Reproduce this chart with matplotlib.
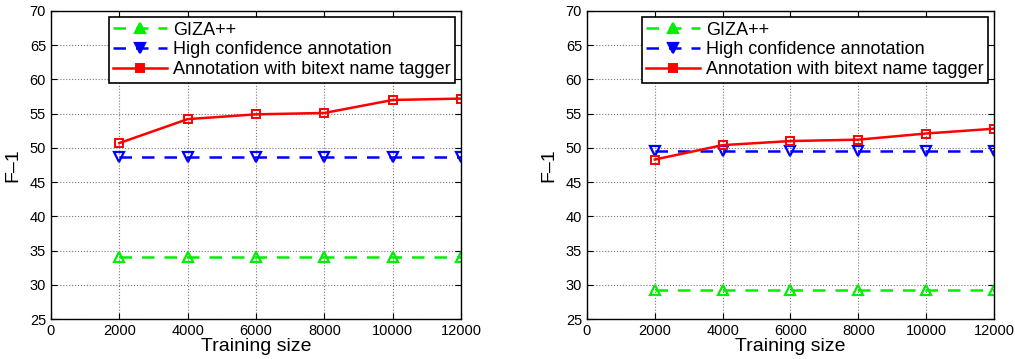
import matplotlib
matplotlib.use("Agg")
import matplotlib.pyplot as plt

plt.rcParams['font.family'] = ['Liberation Sans', 'DejaVu Sans']

train_sizes = [2000, 4000, 6000, 8000, 10000, 12000]
labels = ["GIZA++", "High confidence annotation", "Annotation with bitext name tagger"]

left_giza = [34.0, 34.0, 34.0, 34.0, 34.0, 34.0]
left_high = [48.7, 48.7, 48.7, 48.7, 48.7, 48.7]
left_bitext = [50.7, 54.2, 54.9, 55.1, 57.0, 57.2]

right_giza = [29.2, 29.2, 29.2, 29.2, 29.2, 29.2]
right_high = [49.6, 49.6, 49.6, 49.6, 49.6, 49.6]
right_bitext = [48.3, 50.4, 51.0, 51.2, 52.1, 52.8]

xticks = [0, 2000, 4000, 6000, 8000, 10000, 12000]
yticks = [25, 30, 35, 40, 45, 50, 55, 60, 65, 70]

fig = plt.figure(figsize=(10.15, 3.59), dpi=100)
ax1 = fig.add_axes([0.0502, 0.1114, 0.404, 0.858])
ax2 = fig.add_axes([0.5783, 0.1114, 0.401, 0.858])

for ax, g, h, b in [(ax1, left_giza, left_high, left_bitext),
                    (ax2, right_giza, right_high, right_bitext)]:
    ax.plot(train_sizes, g, '--', color='#00ee00', marker='^', ms=7, mfc='none', mew=1.6,
            lw=1.8, dashes=(5, 4), label=labels[0])
    ax.plot(train_sizes, h, '--', color='#0000ff', marker='v', ms=7, mfc='none', mew=1.6,
            lw=1.8, dashes=(5, 4), label=labels[1])
    ax.plot(train_sizes, b, '-', color='#ff0000', marker='s', ms=5.5, mfc='none', mew=1.4,
            lw=1.8, label=labels[2])
    ax.set_xlim(0, 12000)
    ax.set_ylim(25, 70)
    ax.set_xticks(xticks)
    ax.set_yticks(yticks)
    ax.tick_params(direction='in', labelsize=10.5, length=4, top=True, right=True)
    ax.grid(True, linestyle=':', color='#777777', lw=0.8)
    ax.set_xlabel('Training size', fontsize=14, labelpad=0)
    ax.set_ylabel('F\u20131', fontsize=14, labelpad=6)
    for s in ax.spines.values():
        s.set_linewidth(1.0)
    leg = ax.legend(loc='upper right', bbox_to_anchor=(0.985, 0.98), fontsize=13,
                    frameon=True, fancybox=False, framealpha=1, edgecolor='black',
                    borderpad=0.25, labelspacing=0.15, handlelength=3, handletextpad=0.3,
                    borderaxespad=0)
    leg.get_frame().set_linewidth(1.2)
    for hdl in leg.legend_handles:
        hdl.set_markerfacecolor(hdl.get_color())

fig.savefig('out.png', dpi=100)
